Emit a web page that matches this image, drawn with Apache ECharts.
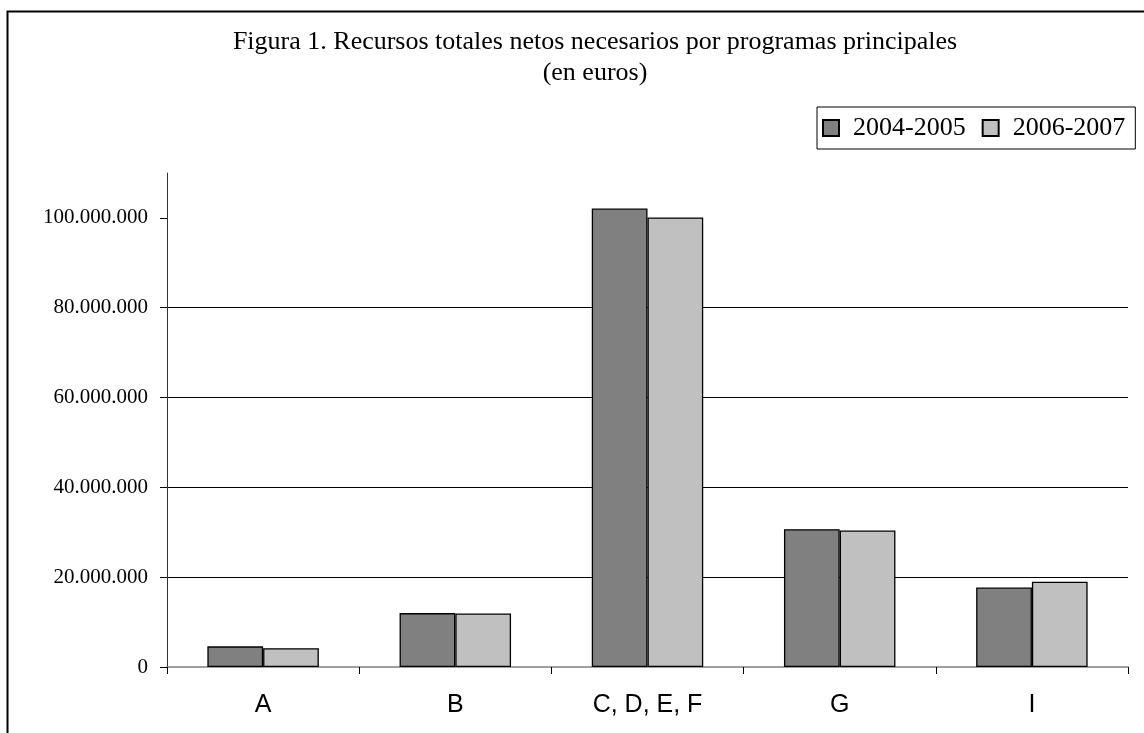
<!DOCTYPE html>
<html>
<head>
<meta charset="utf-8">
<script src="https://cdn.jsdelivr.net/npm/echarts@6/dist/echarts.min.js"></script>
<style>html,body{margin:0;padding:0;background:#fff;}#c{width:1144px;height:733px;}</style>
</head>
<body>
<div id="c"></div>
<script>
var categories = ['A', 'B', 'C, D, E, F', 'G', 'I'];
var seriesNames = ['2004-2005', '2006-2007'];
var values2004 = [4600000, 12000000, 102100000, 30700000, 17700000];
var values2006 = [4200000, 11900000, 100100000, 30400000, 19000000];
var yTicks = [0, 20000000, 40000000, 60000000, 80000000, 100000000];
var titleLines = ['Figura 1. Recursos totales netos necesarios por programas principales', '(en euros)'];

function fmt(v) {
  return String(Math.round(v)).replace(/\B(?=(\d{3})+(?!\d))/g, '.');
}

var chart = echarts.init(document.getElementById('c'), null, {renderer: 'canvas'});
var serif = "'Liberation Serif', 'Times New Roman', serif";
var sans = "'Liberation Sans', Arial, sans-serif";
chart.setOption({
  backgroundColor: '#fff',
  animation: false,
  graphic: [{
    type: 'rect', silent: true, z: -1,
    shape: {x: 7.5, y: 11.5, width: 1400, height: 1000},
    style: {fill: 'none', stroke: '#000', lineWidth: 2}
  }],
  title: {
    text: titleLines.join('\n'),
    left: 595, textAlign: 'center', top: 27, padding: 0,
    textStyle: {fontFamily: serif, fontSize: 26, fontWeight: 'normal', color: '#000', lineHeight: 31}
  },
  legend: {
    data: seriesNames,
    left: 817, top: 107,
    orient: 'horizontal',
    padding: [8, 10, 8, 5],
    itemWidth: 16, itemHeight: 16, itemGap: 16,
    borderColor: '#000', borderWidth: 1,
    icon: 'rect',
    textStyle: {fontFamily: serif, fontSize: 26, color: '#000', padding: [0, 0, 0, 9]}
  },
  grid: {left: 167, right: 16, top: 173, bottom: 66, containLabel: false},
  xAxis: {
    type: 'category',
    data: categories,
    axisLine: {lineStyle: {color: '#808080', width: 1.5}},
    axisTick: {show: true, length: 7, inside: false, lineStyle: {color: '#000'}},
    axisLabel: {fontFamily: sans, fontSize: 25, color: '#000', margin: 26}
  },
  yAxis: {
    type: 'value',
    min: 0, max: 110000000, interval: 20000000,
    axisLine: {show: true, lineStyle: {color: '#333', width: 1}},
    axisTick: {show: true, length: 7, customValues: yTicks, lineStyle: {color: '#000'}},
    axisLabel: {fontFamily: serif, fontSize: 21, color: '#000', margin: 19, customValues: yTicks,
      formatter: function (v) { return fmt(v); }},
    splitLine: {show: true, showMaxLine: false, showMinLine: false, lineStyle: {color: '#000', width: 1}}
  },
  series: [{
    name: seriesNames[0], type: 'bar', data: values2004,
    barGap: '0%', barCategoryGap: '42%',
    itemStyle: {color: '#808080', borderColor: '#000', borderWidth: 1.3}
  }, {
    name: seriesNames[1], type: 'bar', data: values2006,
    barGap: '0%', barCategoryGap: '42%',
    itemStyle: {color: '#c0c0c0', borderColor: '#000', borderWidth: 1.3}
  }]
});
</script>
</body>
</html>
